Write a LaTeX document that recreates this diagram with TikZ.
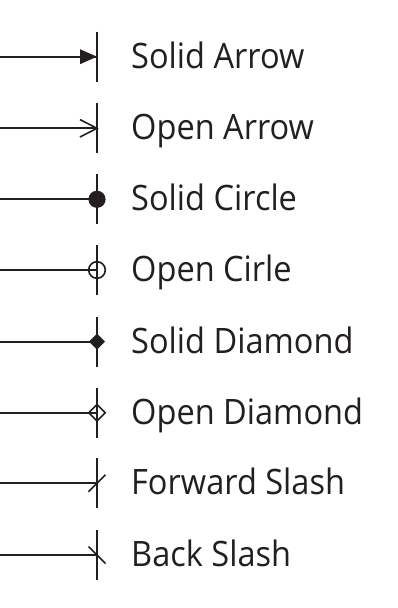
\documentclass[tikz,border=0pt]{standalone}
\usepackage{fontspec}
\setmainfont[FakeStretch=0.93]{Open Sans}
\usetikzlibrary{calc}
\definecolor{ink}{HTML}{231F20}
\begin{document}
\begin{tikzpicture}[x=1pt,y=-1pt,
  conn/.style={draw=ink,line width=1.7pt},
  bar/.style={draw=ink,line width=2pt},
  lbl/.style={anchor=base west,inner sep=0pt,text=ink,font=\fontsize{35}{38}\selectfont},
  mk/.style={draw=ink,line width=1.6pt}]
\useasboundingbox (0,0) rectangle (398,608);
\foreach \i/\y/\t in {1/56.7/Solid Arrow,2/128.3/Open Arrow,3/199.3/Solid Circle,4/270/Open Cirle,5/341.7/Solid Diamond,6/412.7/Open Diamond,7/483.3/Forward Slash,8/555/Back Slash}{
  \coordinate (s\i) at (0,\y);
  \coordinate (e\i) at (97,\y);
  \coordinate (bt\i) at (97,\y-25);
  \coordinate (bb\i) at (97,\y+25);
  \draw[conn] (s\i) -- (e\i);
  \draw[bar] (bt\i) -- (bb\i);
  \node[lbl] (t\i) at (131,\y+11.6) {\t};
}
% solid arrow
\fill[ink] (e1) -- ++(-17,-7.5) -- ++(0,15) -- cycle;
% open arrow
\draw[mk] ($(e2)+(-17,-8.7)$) -- (e2) -- ($(e2)+(-17,8.7)$);
% solid circle
\fill[ink] (e3) circle (8.6);
% open circle
\draw[mk] (e4) circle (8.3);
% solid diamond
\fill[ink] ($(e5)+(-8,0)$) -- ($(e5)+(0,-8)$) -- ($(e5)+(8,0)$) -- ($(e5)+(0,8)$) -- cycle;
% open diamond
\draw[mk] ($(e6)+(-8.3,0)$) -- ($(e6)+(0,-8.3)$) -- ($(e6)+(8.3,0)$) -- ($(e6)+(0,8.3)$) -- cycle;
% forward slash
\draw[mk] ($(e7)+(-8.5,8.5)$) -- ($(e7)+(8.5,-8.5)$);
% back slash
\draw[mk] ($(e8)+(-8.5,-8.5)$) -- ($(e8)+(8.5,8.5)$);
\end{tikzpicture}
\end{document}
